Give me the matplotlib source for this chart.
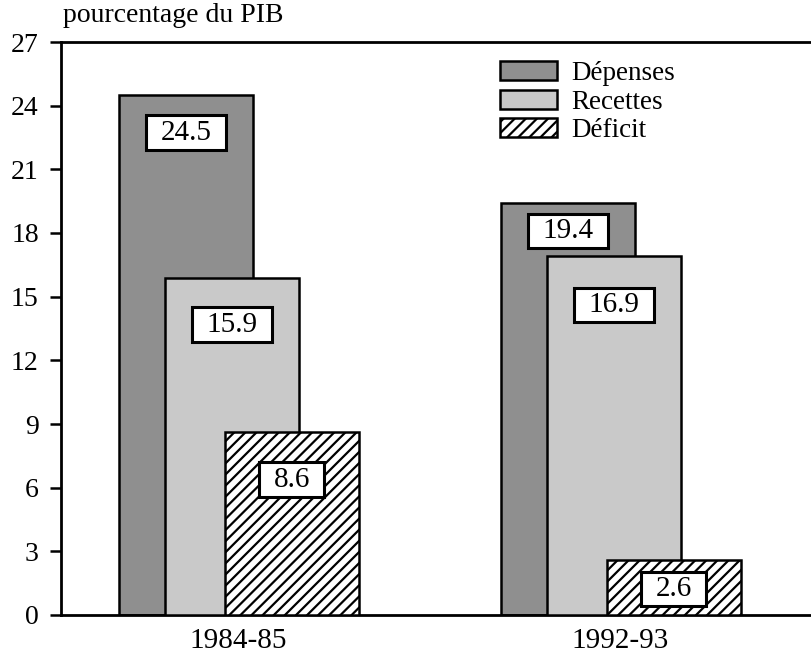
import matplotlib
matplotlib.use('Agg')
import matplotlib.pyplot as plt
from matplotlib.path import Path
import numpy as np

periods = ['1984-85', '1992-93']
series = ['Dépenses', 'Recettes', 'Déficit']
depenses = [24.5, 19.4]
recettes = [15.9, 16.9]
deficit = [8.6, 2.6]
yticks = [0, 3, 6, 9, 12, 15, 18, 21, 24, 27]

plt.rcParams['font.family'] = ['Liberation Serif', 'DejaVu Serif']
plt.rcParams['hatch.linewidth'] = 1.6

x = np.arange(len(periods))
width = 0.35
offsets = [-0.136, -0.016, 0.141]
faces = ['#8f8f8f', '#c9c9c9', 'white']
hatches = [None, None, '///']
# how far below the bar top each value box sits (points)
drops = [[27, 34, 34], [20, 35, 21]]


def wide_box(x0, y0, w, h, mutation_size):
    # box wider than tall padding, like the original labels
    px = 0.5 * mutation_size
    py = 0.15 * mutation_size
    x0, y0, x1, y1 = x0 - px, y0 - py, x0 + w + px, y0 + h + py
    return Path([(x0, y0), (x1, y0), (x1, y1), (x0, y1), (x0, y0)], closed=True)


fig = plt.figure(figsize=(8.12, 6.55), dpi=100)
ax = fig.add_axes([61 / 812, 40 / 655, 1 - 61 / 812, (615 - 42) / 655])

values = [depenses, recettes, deficit]
for k in range(3):
    ax.bar(x + offsets[k], values[k], width, color=faces[k], edgecolor='black',
           linewidth=1.8, hatch=hatches[k], label=series[k], zorder=2 + k)

for k in range(3):
    for i in range(len(periods)):
        v = values[k][i]
        ax.annotate('{}'.format(v), xy=(x[i] + offsets[k], v),
                    xytext=(0, -drops[i][k]), textcoords='offset points',
                    ha='center', va='center', fontsize=21, zorder=10,
                    bbox=dict(boxstyle=wide_box, fc='white', ec='black', lw=2.2))

ax.set_xlim(-0.463, 1.503)
ax.set_ylim(0, 27)
ax.set_yticks(yticks)
ax.set_xticks(x)
ax.set_xticklabels(periods)
ax.tick_params(axis='y', length=8, width=1.8, pad=8, labelsize=20)
ax.tick_params(axis='x', length=0, pad=9, labelsize=21)
ax.spines['right'].set_visible(False)
for s in ['left', 'top', 'bottom']:
    ax.spines[s].set_linewidth(2)

fig.text(63 / 812, 1 - 3 / 655, 'pourcentage du PIB', ha='left', va='top', fontsize=20)

ax.legend(loc='upper left', bbox_to_anchor=(500 / 812, 1 - 61 / 655),
          bbox_transform=fig.transFigure, frameon=False, fontsize=19.5,
          handlelength=2.1, handleheight=0.7, handletextpad=0.55,
          labelspacing=0.13, borderpad=0, borderaxespad=0)

fig.savefig('out.png', dpi=100)
